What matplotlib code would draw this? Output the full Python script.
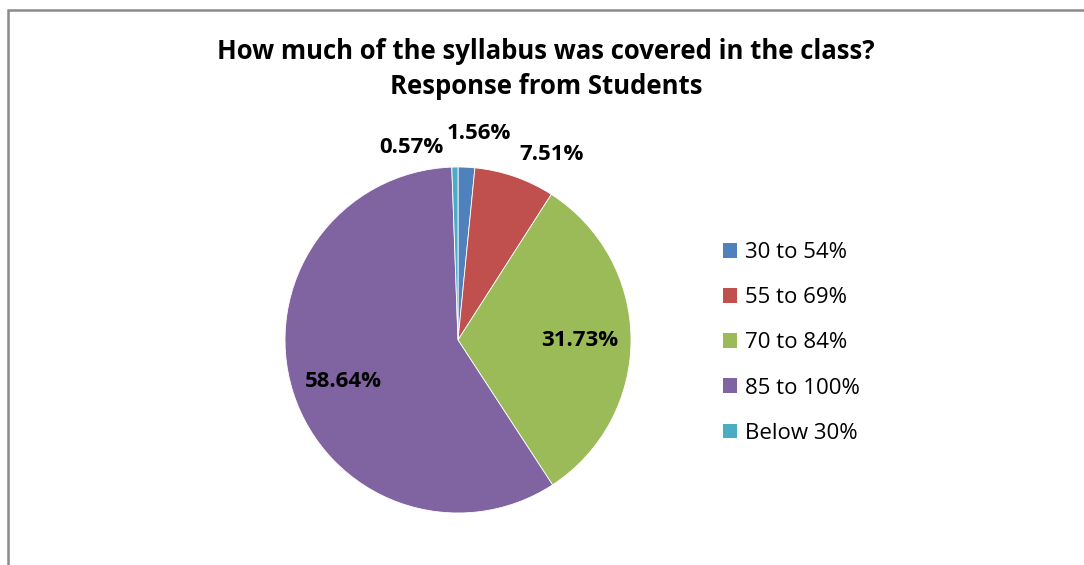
import matplotlib
matplotlib.use("Agg")
import matplotlib.pyplot as plt
from matplotlib.patches import Patch, Rectangle

categories = ["30 to 54%", "55 to 69%", "70 to 84%", "85 to 100%", "Below 30%"]
values = [1.56, 7.51, 31.73, 58.64, 0.57]
label_texts = ["1.56%", "7.51%", "31.73%", "58.64%", "0.57%"]
title = "How much of the syllabus was covered in the class?\nResponse from Students"

colors = ["#4F81BD", "#C0504D", "#9BBB59", "#8064A2", "#4BACC6"]
# label positions in pie data units (radius = 1)
label_pos = [(0.12, 1.195), (0.54, 1.07), (0.705, -0.005), (-0.66, -0.24), (-0.27, 1.11)]

plt.rcParams['font.family'] = ['Open Sans', 'DejaVu Sans']

W, H = 1084, 565
fig = plt.figure(figsize=(W / 100, H / 100), dpi=100)

# outer frame (left and top edges visible)
fig.add_artist(Rectangle((7.5 / W, -0.1), 1.2, 1 - 9.5 / H + 0.1, transform=fig.transFigure,
                         fill=False, edgecolor="#8a8a8a", linewidth=1.8))

cx, cy, r = 458, 340, 173
ax = fig.add_axes([(cx - r) / W, (H - cy - r) / H, 2 * r / W, 2 * r / H])
wedges, _ = ax.pie(values, colors=colors, startangle=90, counterclock=False,
                   radius=1, wedgeprops=dict(edgecolor="white", linewidth=0.6))
ax.set_xlim(-1, 1)
ax.set_ylim(-1, 1)
ax.set_aspect("equal")
ax.axis("off")

for txt, (x, y) in zip(label_texts, label_pos):
    ax.text(x, y, txt, ha="center", va="center", fontsize=16, fontweight="bold",
            color="black", clip_on=False)

fig.text(546 / W, 1 - 69 / H, title, ha="center", va="center", fontsize=18.5,
         fontweight="bold", linespacing=1.4)

handles = [Patch(facecolor=c, edgecolor="none") for c in colors]
fig.legend(handles, categories, loc="upper left", bbox_to_anchor=(714 / W, 1 - 233 / H),
           frameon=False, fontsize=16, handlelength=0.65, handleheight=0.65,
           handletextpad=0.35, labelspacing=1.09, borderaxespad=0)

fig.savefig("out.png", dpi=100, facecolor="white")
